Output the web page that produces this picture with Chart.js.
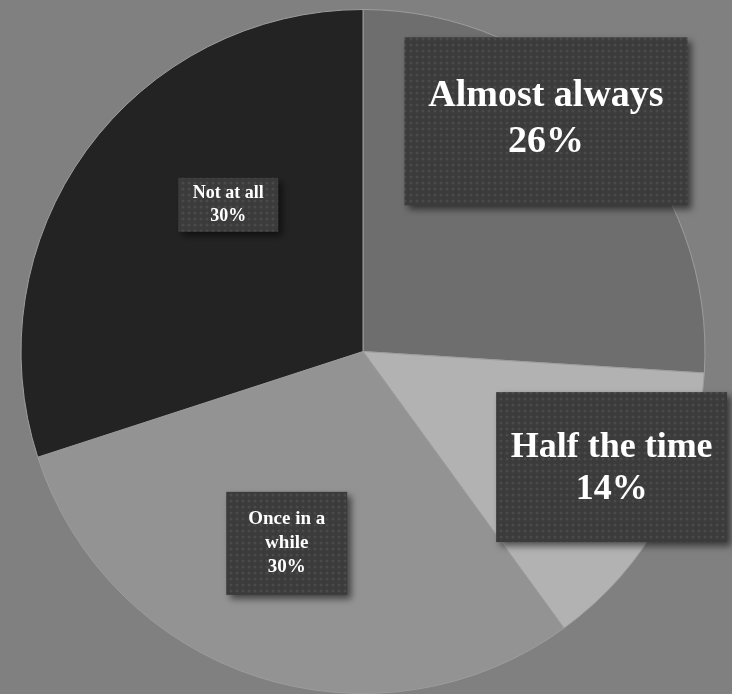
<!DOCTYPE html>
<html>
<head>
<meta charset="utf-8">
<script src="https://cdn.jsdelivr.net/npm/chart.js@4.4.1/dist/chart.umd.min.js"></script>
<style>
  html, body { margin: 0; padding: 0; background: #808080; }
  #wrap { width: 732px; height: 694px; position: relative; }
</style>
</head>
<body>
<div id="wrap"><canvas id="myChart"></canvas></div>
<script>
// chart data
const categories = ['Almost always', 'Half the time', 'Once in a while', 'Not at all'];
const percents = [26, 14, 30, 30];
const sliceColors = ['#6e6e6e', '#b2b2b2', '#939393', '#232323'];

// label boxes: text lines, offset from pie centre (in radius units), box size, font size
const labelLayout = [
    { lines: ['Almost always'], dx: 0.535, dy: -0.673, w: 283, h: 168, size: 38, lh: 46, ty: -2 },
    { lines: ['Half the time'], dx: 0.727, dy: 0.338, w: 231, h: 150, size: 36, lh: 42, ty: 2 },
    { lines: ['Once in a', 'while'], dx: -0.223, dy: 0.561, w: 121, h: 103, size: 19, lh: 24, ty: 0 },
    { lines: ['Not at all'], dx: -0.394, dy: -0.429, w: 100, h: 54, size: 18, lh: 23, ty: 0 }
];

// dotted texture for the label boxes
function makeDots() {
    let c = document.createElement('canvas');
    c.width = 6; c.height = 6;
    let g = c.getContext('2d');
    g.fillStyle = '#3b3b3b';
    g.fillRect(0, 0, 6, 6);
    g.fillStyle = '#4a4a4a';
    g.beginPath();
    g.arc(3, 3, 1.6, 0, Math.PI * 2);
    g.fill();
    return c;
}

const boxLabels = {
    id: 'boxLabels',
    afterDatasetsDraw(chart) {
        const ctx = chart.ctx;
        const meta = chart.getDatasetMeta(0);
        const pattern = ctx.createPattern(makeDots(), 'repeat');
        meta.data.forEach((arc, i) => {
            const lay = labelLayout[i];
            const r = arc.outerRadius;
            const cx = arc.x + lay.dx * r;
            const cy = arc.y + lay.dy * r;
            ctx.save();
            ctx.shadowColor = 'rgba(0,0,0,0.55)';
            ctx.shadowBlur = 7;
            ctx.shadowOffsetX = 4;
            ctx.shadowOffsetY = 4;
            ctx.fillStyle = pattern;
            ctx.fillRect(cx - lay.w / 2, cy - lay.h / 2, lay.w, lay.h);
            ctx.restore();

            const lines = lay.lines.concat([percents[i] + '%']);
            ctx.save();
            ctx.fillStyle = '#ffffff';
            ctx.font = 'bold ' + lay.size + 'px "Liberation Serif", "DejaVu Serif", serif';
            ctx.textAlign = 'center';
            ctx.textBaseline = 'middle';
            const top = cy + lay.ty - (lines.length - 1) * lay.lh / 2;
            lines.forEach((t, k) => ctx.fillText(t, cx, top + k * lay.lh));
            ctx.restore();
        });
    }
};

let myChart = document.getElementById('myChart').getContext('2d');

let pieChart = new Chart(myChart, {
    type: 'pie',
    data: {
        labels: categories,
        datasets: [{
            data: percents,
            backgroundColor: sliceColors,
            borderColor: '#9c9c9c',
            borderWidth: 1
        }]
    },
    options: {
        responsive: true,
        maintainAspectRatio: false,
        animation: false,
        layout: { padding: { top: 9, right: 6, bottom: 0, left: 0 } },
        plugins: {
            legend: { display: false },
            tooltip: { enabled: false }
        }
    },
    plugins: [boxLabels]
});
</script>
</body>
</html>
